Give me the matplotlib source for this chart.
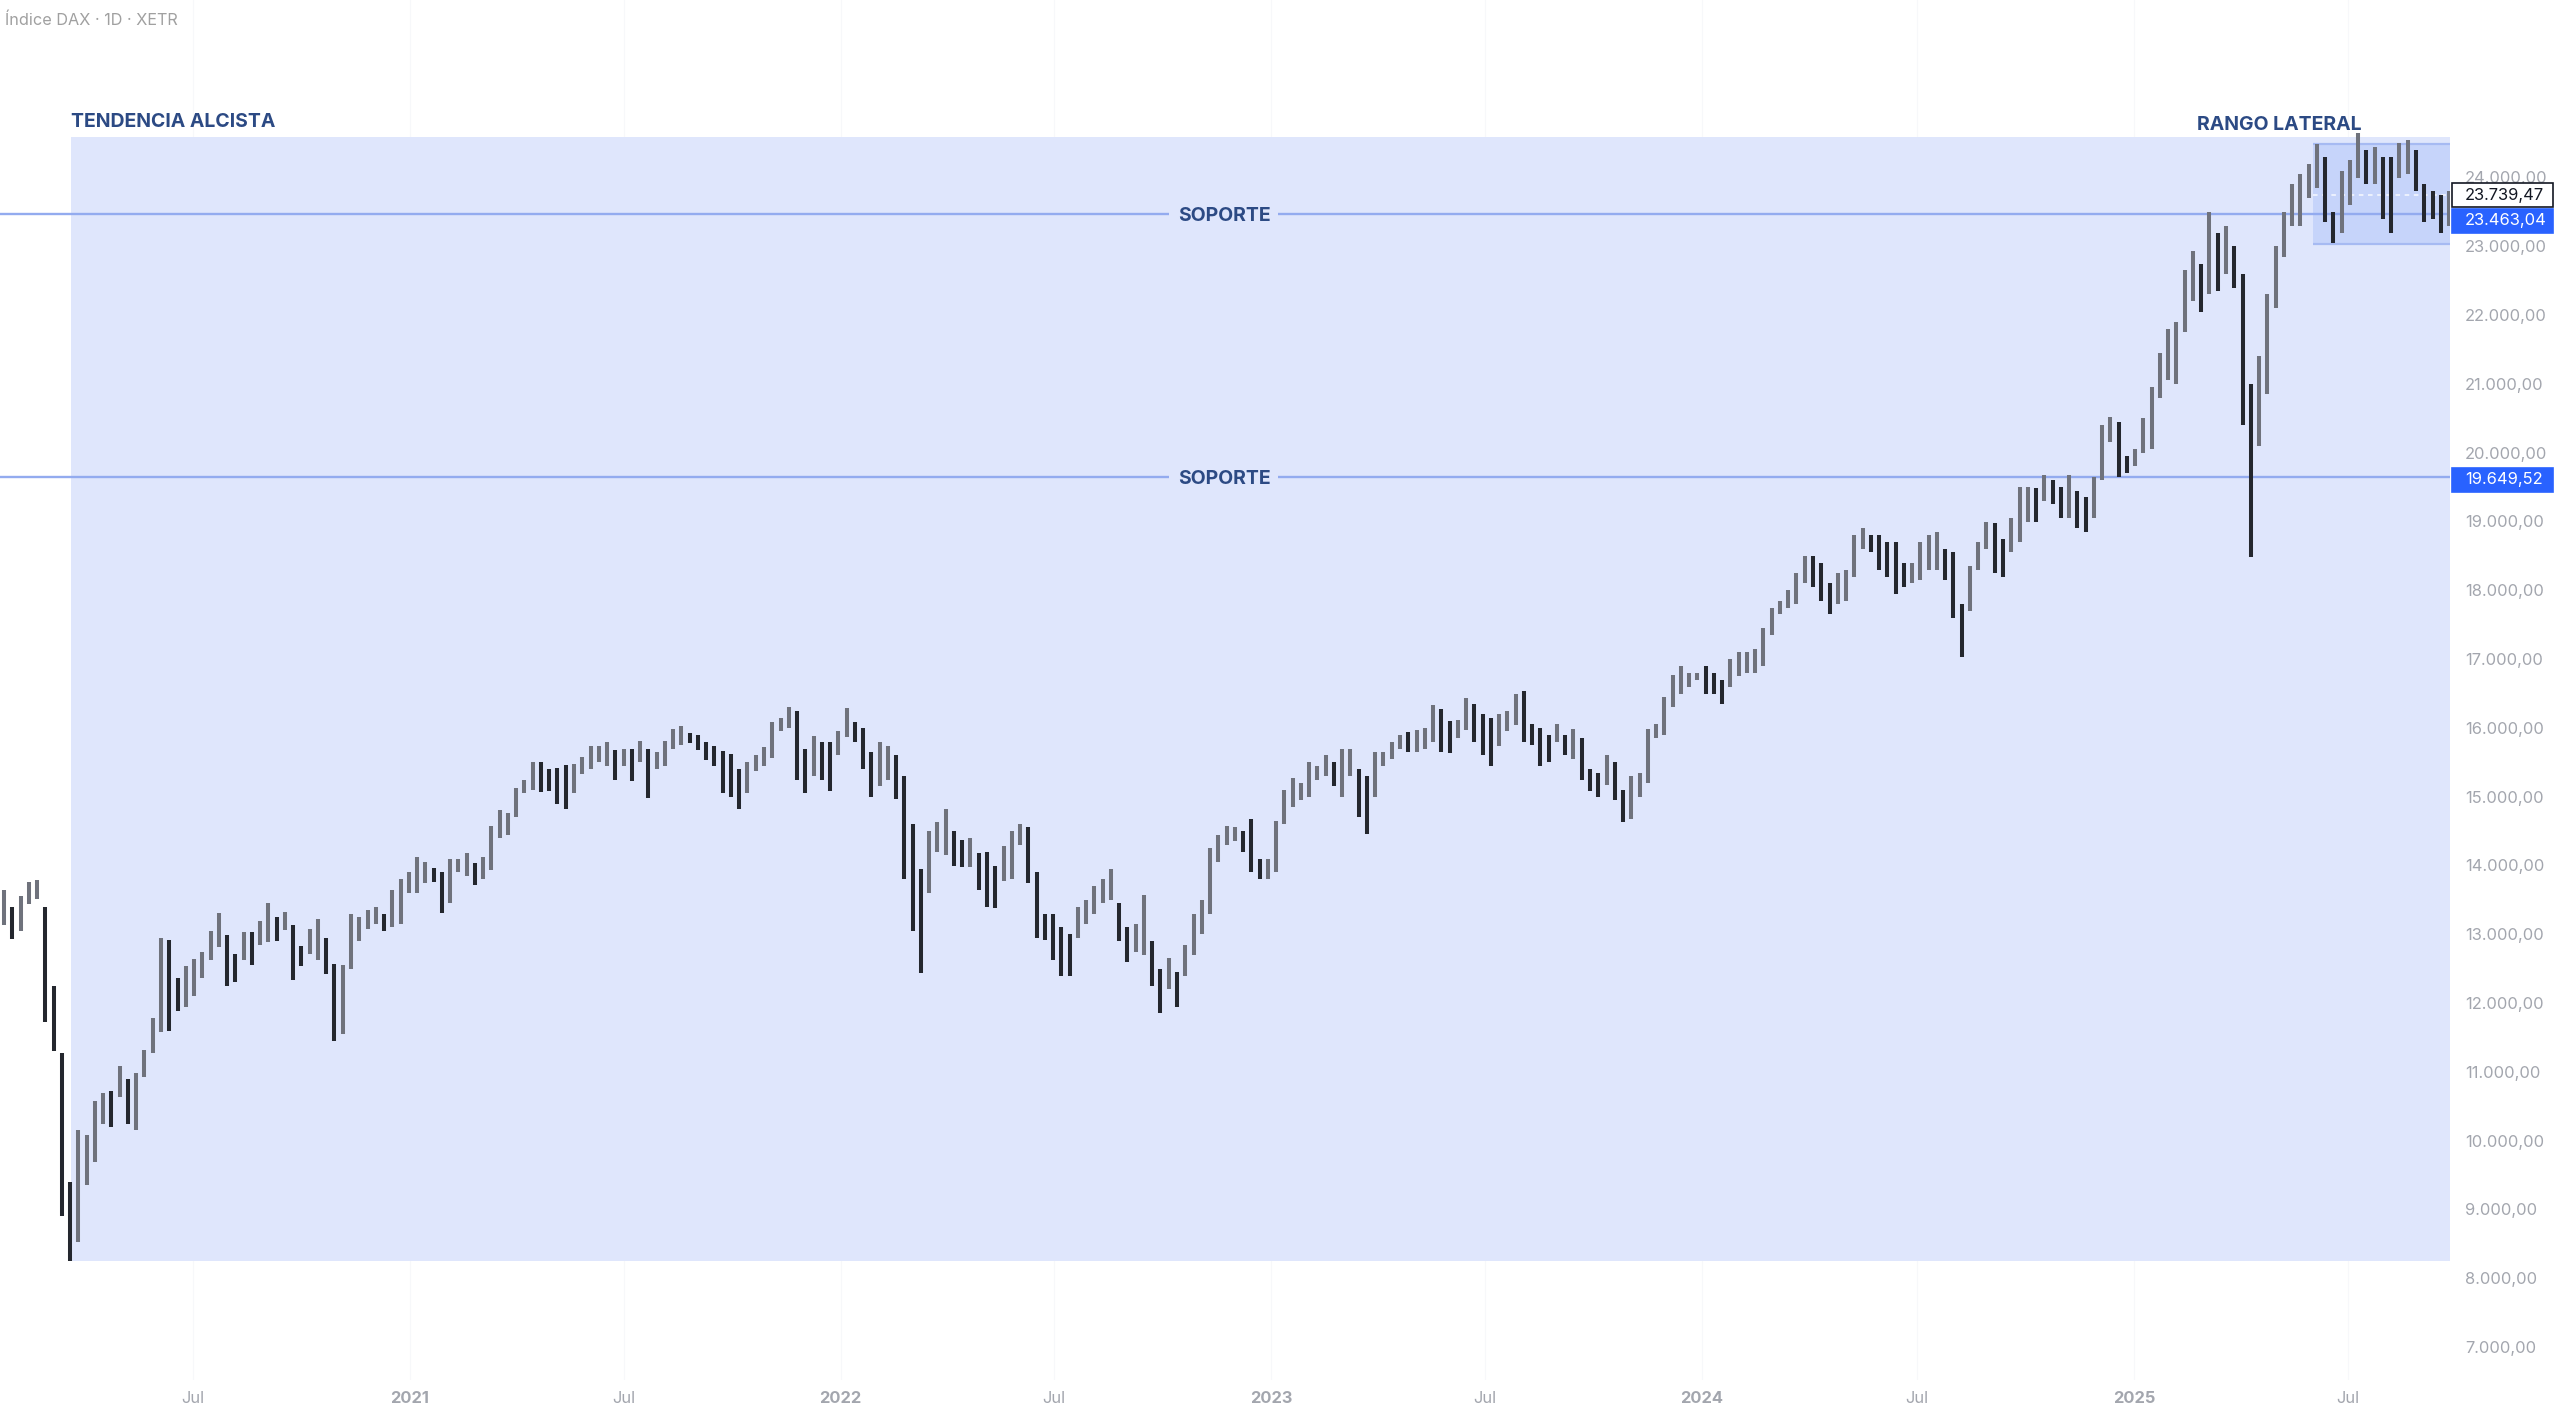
import datetime as dt

import matplotlib.dates as mdates
import matplotlib.pyplot as plt
import matplotlib.ticker as mticker
import matplotlib.transforms as mtransforms
import pandas as pd
from matplotlib.patches import Rectangle

W, H, DPI = 2560, 1413, 200
PLOT_RIGHT_PX = 2450
PLOT_BOTTOM_PX = 1380

FONT = ["Inter", "DejaVu Sans"]
TEXT_NAVY = "#2c4a84"
AXIS_GREY = "#a3a6ae"
TREND_FILL = "#dfe6fc"
RANGE_FILL = "#c6d4fa"
LINE_BLUE = "#93abef"
LABEL_BLUE = "#2962ff"

# DAX weekly ranges (week starting Monday 2020-01-20 ... 2025-09-22)
week_high = [
    # 2020
    13640, 13400, 13560, 13760, 13795, 13390, 12250, 11280, 9400, 10150,
    10080, 10570, 10700, 10720, 11080, 10890, 10990, 11320, 11780, 12950,
    12910, 12370, 12540, 12640, 12750, 13050, 13310, 12990, 12720, 13040,
    13040, 13200, 13460, 13250, 13330, 13140, 12830, 13070, 13220, 12950,
    12570, 12560, 13300, 13250, 13360, 13400, 13300, 13640, 13800, 13900,
    # 2021
    14130, 14050, 13960, 13900, 14100, 14100, 14180, 14030, 14130, 14570,
    14800, 14770, 15120, 15250, 15500, 15500, 15400, 15420, 15460, 15480,
    15570, 15730, 15730, 15800, 15680, 15700, 15700, 15810, 15700, 15650,
    15810, 15990, 16030, 15920, 15900, 15800, 15730, 15670, 15620, 15400,
    15500, 15600, 15720, 16080, 16140, 16300, 16250, 15700, 15880, 15800,
    15800, 15950,
    # 2022
    16290, 16080, 16000, 15650, 15800, 15740, 15600, 15300, 14600, 13950,
    14500, 14630, 14820, 14500, 14370, 14400, 14180, 14200, 14000, 14280,
    14500, 14600, 14560, 13900, 13300, 13300, 13100, 13000, 13400, 13500,
    13700, 13800, 13950, 13450, 13100, 13150, 13570, 12900, 12500, 12650,
    12450, 12850, 13300, 13500, 14250, 14450, 14580, 14560, 14500, 14680,
    14100, 14100,
    # 2023
    14650, 15100, 15270, 15200, 15500, 15450, 15600, 15500, 15700, 15700,
    15400, 15300, 15650, 15650, 15800, 15900, 15940, 15970, 16000, 16330,
    16280, 16100, 16110, 16430, 16350, 16200, 16150, 16200, 16250, 16500,
    16530, 16050, 16000, 15900, 16050, 15900, 15990, 15850, 15400, 15350,
    15600, 15500, 15100, 15300, 15350, 15980, 16050, 16450, 16770, 16900,
    16800, 16800,
    # 2024
    16900, 16800, 16700, 17000, 17100, 17100, 17150, 17450, 17750, 17850,
    18000, 18250, 18500, 18500, 18400, 18100, 18250, 18300, 18800, 18900,
    18800, 18800, 18700, 18700, 18400, 18400, 18700, 18800, 18850, 18600,
    18550, 17800, 18350, 18700, 18990, 18980, 18750, 19050, 19500, 19500,
    19480, 19680, 19600, 19500, 19680, 19450, 19350, 19650, 20400, 20520,
    20450, 19950, 20050,
    # 2025
    20500, 20950, 21450, 21800, 21900, 22650, 22930, 22750, 23500, 23200,
    23300, 23000, 22600, 21000, 21400, 22300, 23000, 23500, 23900, 24050,
    24200, 24480, 24300, 23500, 24100, 24250, 24640, 24400, 24450, 24300,
    24300, 24500, 24550, 24400, 23900, 23800, 23750, 23800,
]
week_low = [
    # 2020
    13130, 12930, 13050, 13440, 13510, 11720, 11300, 8900, 8256, 8530,
    9350, 9690, 10250, 10200, 10630, 10250, 10160, 10920, 11280, 11580,
    11600, 11880, 11940, 12100, 12370, 12620, 12810, 12250, 12300, 12630,
    12560, 12840, 12890, 12900, 13060, 12340, 12540, 12720, 12620, 12430,
    11450, 11550, 12500, 12900, 13080, 13150, 13050, 13100, 13150, 13600,
    # 2021
    13600, 13750, 13760, 13310, 13450, 13900, 13850, 13720, 13800, 13940,
    14400, 14440, 14700, 15050, 15100, 15070, 15080, 14900, 14820, 15050,
    15330, 15400, 15500, 15450, 15250, 15450, 15230, 15500, 14980, 15400,
    15440, 15700, 15750, 15780, 15680, 15530, 15440, 15050, 15000, 14820,
    15050, 15370, 15450, 15560, 15950, 16000, 15250, 15060, 15300, 15250,
    15080, 15600,
    # 2022
    15870, 15800, 15400, 14990, 15150, 15250, 14960, 13800, 13050, 12440,
    13600, 14200, 14150, 14000, 13980, 13980, 13650, 13400, 13380, 13780,
    13800, 14300, 13750, 12950, 12920, 12620, 12400, 12390, 12950, 13150,
    13300, 13450, 13500, 12900, 12600, 12750, 12700, 12250, 11860, 12200,
    11950, 12400, 12700, 13000, 13300, 14050, 14300, 14350, 14200, 13900,
    13800, 13800,
    # 2023
    13900, 14600, 14850, 14950, 15000, 15250, 15300, 15150, 15000, 15300,
    14700, 14460, 15000, 15450, 15550, 15700, 15650, 15650, 15700, 15800,
    15650, 15630, 15850, 15970, 15800, 15600, 15450, 15730, 15950, 16040,
    15800, 15750, 15450, 15500, 15800, 15600, 15550, 15250, 15080, 15000,
    15170, 14950, 14630, 14670, 15000, 15200, 15850, 15900, 16300, 16500,
    16600, 16700,
    # 2024
    16500, 16500, 16350, 16600, 16750, 16800, 16800, 16900, 17350, 17650,
    17750, 17800, 18100, 18050, 17850, 17650, 17800, 17850, 18200, 18600,
    18550, 18300, 18200, 17950, 18050, 18100, 18150, 18300, 18300, 18150,
    17600, 17025, 17700, 18300, 18600, 18250, 18200, 18550, 18700, 19000,
    19000, 19300, 19250, 19050, 19050, 18900, 18850, 19050, 19600, 20150,
    19650, 19700, 19800,
    # 2025
    20000, 20050, 20800, 21050, 21000, 21750, 22200, 22050, 22300, 22350,
    22600, 22400, 20400, 18490, 20100, 20850, 22100, 22850, 23300, 23300,
    23700, 23850, 23350, 23050, 23200, 23600, 24000, 23900, 23900, 23400,
    23200, 24000, 24050, 23800, 23350, 23400, 23200, 23300,
]
first_week = "2020-01-20"

# chart annotations
support_levels = [23463.04, 19649.52]
last_close = 23739.47
trend_box = ("2020-03-20", 8255.65, 24590.0)   # start, low, high
range_box = ("2025-06-02", 23030.0, 24490.0)   # start, low, high
ytick_values = list(range(7000, 25000, 1000))
xtick_dates = ["2020-07-01", "2021-01-01", "2021-07-01", "2022-01-01", "2022-07-01",
               "2023-01-01", "2023-07-01", "2024-01-01", "2024-07-01", "2025-01-01",
               "2025-07-01"]
xtick_labels = ["Jul", "2021", "Jul", "2022", "Jul", "2023", "Jul", "2024", "Jul", "2025", "Jul"]


# pixel calibration of the reference layout
_X_ANCHOR = mdates.date2num(dt.datetime(2021, 1, 1))
_PX_PER_DAY = 1.18
_PX_PER_POINT = 0.0688


def px_to_date(px: float) -> float:
    return _X_ANCHOR + (px - 410) / _PX_PER_DAY


def px_to_price(py: float) -> float:
    return 24000 - (py - 177.5) / _PX_PER_POINT


def fmt_price(value: float) -> str:
    return f"{value:,.2f}".replace(",", "X").replace(".", ",").replace("X", ".")


plt.rcParams["font.family"] = FONT

fig = plt.figure(figsize=(W / DPI, H / DPI), dpi=DPI)
fig.patch.set_facecolor("white")
ax = fig.add_axes([0, 1 - PLOT_BOTTOM_PX / H, PLOT_RIGHT_PX / W, PLOT_BOTTOM_PX / H])
ax.set_facecolor("white")
for spine in ax.spines.values():
    spine.set_visible(False)

x_left, x_right = px_to_date(0), px_to_date(PLOT_RIGHT_PX)
ax.set_xlim(x_left, x_right)
ax.set_ylim(px_to_price(PLOT_BOTTOM_PX), px_to_price(0))

# faint vertical grid
for d in xtick_dates:
    ax.axvline(mdates.datestr2num(d), color="#f7f8fa", linewidth=0.4, zorder=0)

# trend and range boxes
t0 = mdates.datestr2num(trend_box[0])
ax.add_patch(Rectangle((t0, trend_box[1]), x_right - t0, trend_box[2] - trend_box[1],
                       facecolor=TREND_FILL, edgecolor="none", zorder=1))
r0 = mdates.datestr2num(range_box[0])
ax.add_patch(Rectangle((r0, range_box[1]), x_right - r0, range_box[2] - range_box[1],
                       facecolor=RANGE_FILL, edgecolor="none", zorder=1.5))
for level in (range_box[1], range_box[2]):
    ax.hlines(level, r0, x_right, color="#a6baf2", linewidth=0.8, zorder=1.6)

# support lines, broken around the label
gap_l, gap_r = px_to_date(1169), px_to_date(1278)
label_x = px_to_date(1224)
for level in support_levels:
    ax.hlines(level, x_left, gap_l, color=LINE_BLUE, linewidth=0.85, zorder=2)
    ax.hlines(level, gap_r, x_right, color=LINE_BLUE, linewidth=0.85, zorder=2)
    ax.text(label_x, level, "SOPORTE", ha="center", va="center_baseline",
            fontsize=7.0, fontweight="bold", color=TEXT_NAVY, zorder=5)

# last price dashed line (only shows up over the darker range box)
ax.hlines(last_close, r0, x_right, color="white", alpha=0.85, linewidth=0.55,
          linestyles=(0, (3, 3)), zorder=2.5)

# weekly price bars
dates = pd.date_range(first_week, periods=len(week_high), freq="7D") + pd.Timedelta(days=3)
xs = mdates.date2num(dates.to_pydatetime())
mids = [(h + l) / 2 for h, l in zip(week_high, week_low)]
colors = ["#6f727c" if i == 0 or mids[i] >= mids[i - 1] else "#24272e" for i in range(len(mids))]
ax.vlines(xs, week_low, week_high, colors=colors, linewidth=1.45, zorder=3)

# zone labels
ax.text(t0, trend_box[2] + 90, "TENDENCIA ALCISTA", ha="left", va="bottom",
        fontsize=7.0, fontweight="bold", color=TEXT_NAVY)
ax.text(px_to_date(2279), range_box[2] + 140, "RANGO LATERAL", ha="center", va="bottom",
        fontsize=7.0, fontweight="bold", color=TEXT_NAVY)

# price scale on the right
ax.yaxis.tick_right()
ax.set_yticks(ytick_values)
ax.yaxis.set_major_formatter(mticker.FuncFormatter(lambda v, _: fmt_price(v)))
ax.tick_params(axis="y", length=0, pad=5.4, labelsize=5.95, labelcolor=AXIS_GREY)

# time scale
ax.set_xticks([mdates.datestr2num(d) for d in xtick_dates], xtick_labels)
ax.tick_params(axis="x", length=0, pad=4.0, labelsize=5.95, labelcolor=AXIS_GREY)
for lab in ax.get_xticklabels():
    if lab.get_text() != "Jul":
        lab.set_fontweight("bold")

# price labels in the scale
blend = mtransforms.blended_transform_factory(fig.transFigure, ax.transData)
half_h = 12 / _PX_PER_POINT
tags = [
    (last_close, last_close, "white", "#131722", "#131722"),
    (support_levels[0], support_levels[0] - 95, LABEL_BLUE, LABEL_BLUE, "white"),
    (support_levels[1], support_levels[1] - 40, LABEL_BLUE, LABEL_BLUE, "white"),
]
for value, ypos, face, edge, txt in tags:
    ax.add_patch(Rectangle((2452 / W, ypos - half_h), 101 / W, 2 * half_h, transform=blend,
                           facecolor=face, edgecolor=edge, linewidth=0.6, clip_on=False, zorder=6))
    ax.text(2465 / W, ypos, fmt_price(value), transform=blend, ha="left", va="center",
            fontsize=5.95, color=txt, clip_on=False, zorder=7)

fig.text(5 / W, 1 - 25 / H, "Índice DAX · 1D · XETR", ha="left", va="baseline",
         fontsize=5.85, color="#a0a0a0")

fig.savefig("out.png", dpi=DPI, facecolor="white")
